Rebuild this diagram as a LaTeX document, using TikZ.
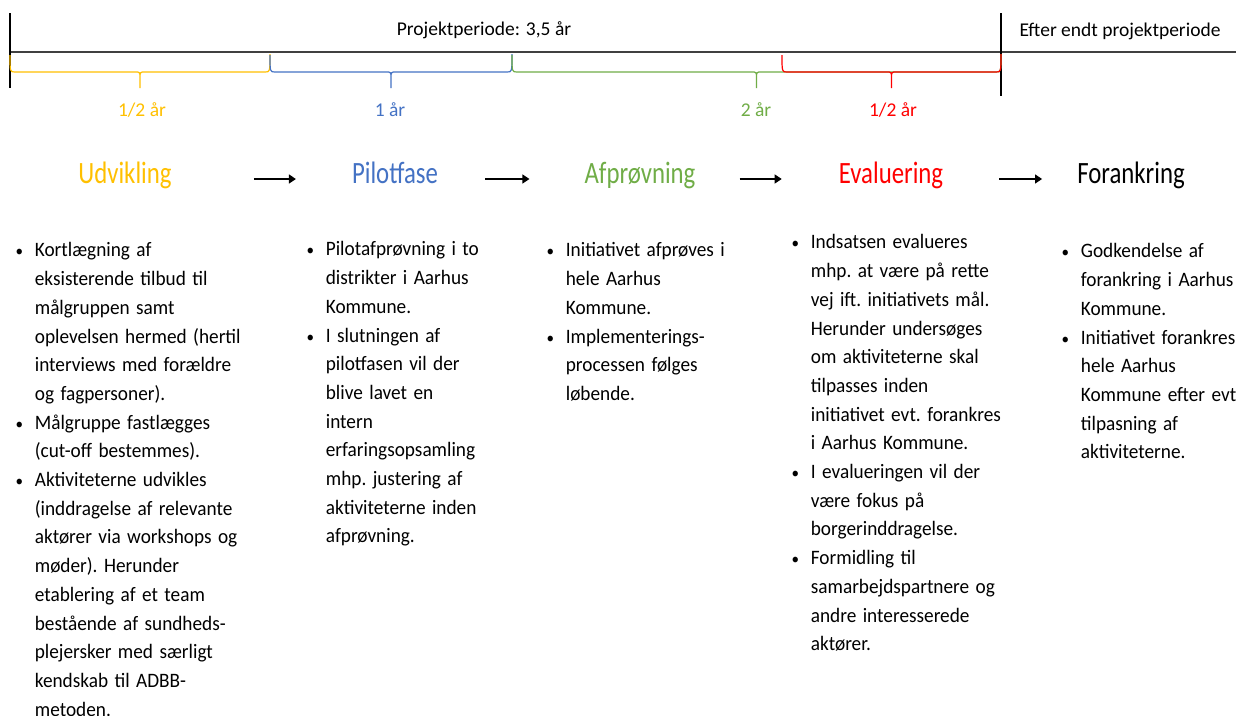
\documentclass[tikz,border=0pt]{standalone}
\usepackage{fontspec}
\setmainfont{Carlito}
\usepackage{xcolor}
\usetikzlibrary{arrows.meta}

\definecolor{gul}{HTML}{FFC000}
\definecolor{blaa}{HTML}{4472C4}
\definecolor{groen}{HTML}{70AD47}
\definecolor{roed}{HTML}{FF0000}

% punkt i en liste med haengende indrykning
\newcommand{\pkt}[1]{\par\leftskip=22pt\noindent\hspace*{-22pt}\rule{0pt}{20pt}%
  \makebox[22pt][l]{\hspace{1.5pt}\fontsize{16}{16}\selectfont\textbullet}#1\par}

\begin{document}
\begin{tikzpicture}[x=1pt, y=-1pt,
  every node/.style={inner sep=0pt},
  fase/.style={font=\fontsize{31}{36}\selectfont, xscale=0.8, text height=14pt, text depth=6pt},
  varighed/.style={font=\fontsize{19.5}{23}\selectfont, anchor=base},
  punkter/.style={anchor=north west, xscale=0.94, text width=260pt, align=left, font=\fontsize{20.5}{28.7}\selectfont\frenchspacing},
  pilen/.style={line width=1.3pt, -{Triangle[length=7pt,width=9pt]}},
  klamme/.style={line width=1.2pt}]
  \fill[white] (0,0) rectangle (1236,715);
  \useasboundingbox (0,0) rectangle (1236,715);

  % Tidslinje
  \draw[line width=1.5pt, black!75] (10,52) -- (1236,52);
  \draw[line width=1.3pt] (10,13) -- (10,88);
  \draw[line width=1.3pt] (1001,13) -- (1001,96);
  \node[varighed] (periode) at (484,35) {Projektperiode: 3,5 år};
  \node[varighed] (efter) at (1120,36) {Efter endt projektperiode};

  % Klammer under tidslinjen
  \foreach \a/\b/\farve in {10/270/gul, 270/512/blaa, 512/1001/groen, 782/1001/roed} {
    \pgfmathsetmacro\m{(\a+\b)/2}
    \draw[klamme, \farve] (\a,55) .. controls (\a,72) .. (\a+5,72) -- (\m-5,72)
      .. controls (\m,72) .. (\m,78) -- (\m,88)
      (\m,78) .. controls (\m,72) .. (\m+5,72) -- (\b-5,72) .. controls (\b,72) .. (\b,54);
  }
  \node[varighed, gul] (lblUdv) at (142,116) {1/2 år};
  \node[varighed, blaa] (lblPilot) at (390,116) {1 år};
  \node[varighed, groen] (lblAfp) at (756,116) {2 år};
  \node[varighed, roed] (lblEva) at (893,116) {1/2 år};

  % Faser
  \node[fase, gul] (udv) at (125,179) {Udvikling};
  \node[fase, blaa] (pilot) at (395,179) {Pilotfase};
  \node[fase, groen] (afp) at (640,179) {Afprøvning};
  \node[fase, roed] (eva) at (891,179) {Evaluering};
  \node[fase] (fora) at (1131,179) {Forankring};
  \foreach \fra/\til/\s/\e in {udv/pilot/82/56, pilot/afp/47/55, afp/eva/44/57, eva/fora/56/35}
    \draw[pilen, shorten <=\s pt, shorten >=\e pt] (\fra) -- (\til);

  % Punkter under hver fase
  \node[punkter] (txtUdv) at (14,228) {%
    \pkt{Kortlægning af\\eksisterende tilbud til\\målgruppen samt\\oplevelsen hermed (hertil\\interviews med forældre\\og fagpersoner).}
    \pkt{Målgruppe fastlægges\\(cut-off bestemmes).}
    \pkt{Aktiviteterne udvikles\\(inddragelse af relevante\\aktører via workshops og\\møder). Herunder\\etablering af et team\\bestående af sundheds-\\plejersker med særligt\\kendskab til ADBB-\\metoden.}};
  \node[punkter] (txtPilot) at (305,227) {%
    \pkt{Pilotafprøvning i to\\distrikter i Aarhus\\Kommune.}
    \pkt{I slutningen af\\pilotfasen vil der\\blive lavet en\\intern\\erfaringsopsamling\\mhp. justering af\\aktiviteterne inden\\afprøvning.}};
  \node[punkter] (txtAfp) at (545,228) {%
    \pkt{Initiativet afprøves i\\hele Aarhus\\Kommune.}
    \pkt{Implementerings-\\processen følges\\løbende.}};
  \node[punkter] (txtEva) at (790,220) {%
    \pkt{Indsatsen evalueres\\mhp. at være på rette\\vej ift. initiativets mål.\\Herunder undersøges\\om aktiviteterne skal\\tilpasses inden\\initiativet evt. forankres\\i Aarhus Kommune.}
    \pkt{I evalueringen vil der\\være fokus på\\borgerinddragelse.}
    \pkt{Formidling til\\samarbejdspartnere og\\andre interesserede\\aktører.}};
  \node[punkter] (txtFora) at (1060,229) {%
    \pkt{Godkendelse af\\forankring i Aarhus\\Kommune.}
    \pkt{Initiativet forankres i\\hele Aarhus\\Kommune efter evt.\\tilpasning af\\aktiviteterne.}};
\end{tikzpicture}
\end{document}
